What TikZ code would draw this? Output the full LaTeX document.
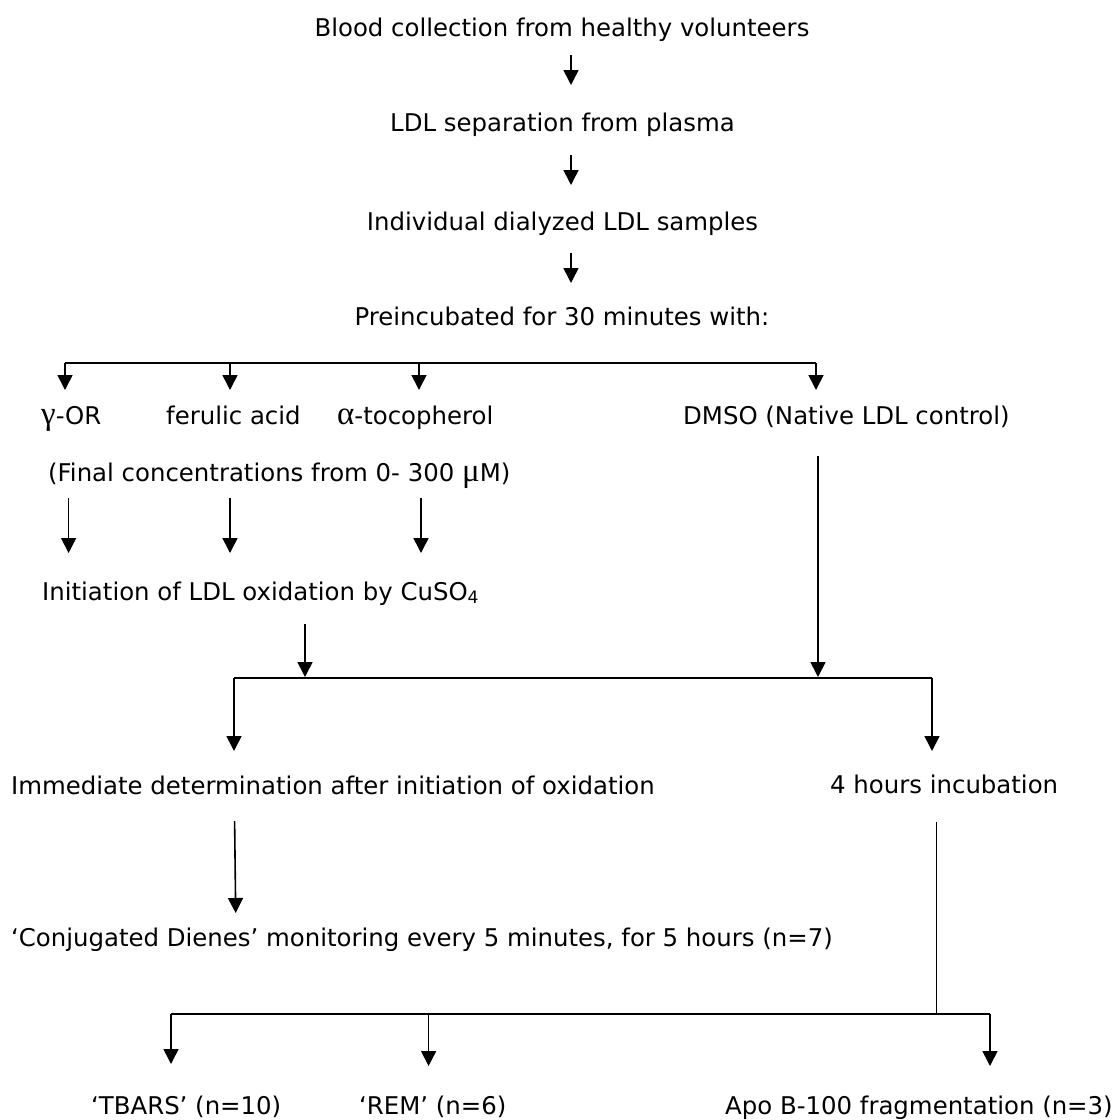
\documentclass[tikz,border=0pt]{standalone}
\usepackage{fontspec}
\setmainfont{DejaVu Sans}
\newfontfamily\grk[Scale=1.35]{Liberation Serif}
\usetikzlibrary{arrows.meta}
\begin{document}
\begin{tikzpicture}[x=1bp,y=-1bp,
  txt/.style={inner sep=0pt, font=\fontsize{24.4bp}{29bp}\selectfont},
  flow/.style={line width=1.6bp, -{Triangle[length=15bp,width=15bp]}},
  plain/.style={line width=1.6bp},
  bar/.style={line width=2bp}]
\useasboundingbox (0,0) rectangle (1119,1120);

% ---- texts ----
\node[txt,anchor=base] (blood) at (562,36.7) {Blood collection from healthy volunteers};
\node[txt,anchor=base] (sep) at (562.5,131.7) {LDL separation from plasma};
\node[txt,anchor=base] (indiv) at (562.5,230) {Individual dialyzed LDL samples};
\node[txt,anchor=base] (prein) at (562,325) {Preincubated for 30 minutes with:};

\node[txt,anchor=base west] (gor) at (41,424) {{\grk γ}-OR};
\node[txt,anchor=base west] (fer) at (166,424) {ferulic acid};
\node[txt,anchor=base west] (toc) at (337,424) {{\grk α}-tocopherol};
\node[txt,anchor=base west] (dmso) at (683,424) {DMSO (Native LDL control)};
\node[txt,anchor=base west] (final) at (48,481.7) {(Final concentrations from 0- 300 {\grk μ}M)};

\node[txt,anchor=base west] (init) at (42,600) {Initiation of LDL oxidation by CuSO\textsubscript{4}};
\node[txt,anchor=base west] (immed) at (11,794) {Immediate determination after initiation of oxidation};
\node[txt,anchor=base west] (four) at (830,793) {4 hours incubation};
\node[txt,anchor=base west] (conj) at (11,946) {‘Conjugated Dienes’ monitoring every 5 minutes, for 5 hours (n=7)};
\node[txt,anchor=base west] (tbars) at (91,1114) {‘TBARS’ (n=10)};
\node[txt,anchor=base west] (rem) at (359,1114) {‘REM’ (n=6)};
\node[txt,anchor=base west] (apo) at (725,1114) {Apo B-100 fragmentation (n=3)};

% ---- junction coordinates ----
\coordinate (a1s) at (571,55);   \coordinate (a1e) at (571,85);
\coordinate (a2s) at (571,155);  \coordinate (a2e) at (571,185);
\coordinate (a3s) at (571,253);  \coordinate (a3e) at (571,283);

\coordinate (b1L) at (65,363);   \coordinate (b1R) at (816,363);
\coordinate (b1a) at (230,363);  \coordinate (b1b) at (419,363);
\coordinate (t1) at (65,390);    \coordinate (t2) at (230,390);
\coordinate (t3) at (419,390);   \coordinate (t4) at (816,390);

\coordinate (c1s) at (68.6,498); \coordinate (c1e) at (68.6,553);
\coordinate (c2s) at (230,498);  \coordinate (c2e) at (230,553);
\coordinate (c3s) at (421,498);  \coordinate (c3e) at (421,553);

\coordinate (d1s) at (305,624);  \coordinate (d1e) at (305,677);
\coordinate (d2s) at (818,456);  \coordinate (d2e) at (818,677);
\coordinate (b2L) at (234,678);  \coordinate (b2R) at (932,678);
\coordinate (e1) at (234,751);   \coordinate (e2) at (932,751);

\coordinate (f1s) at (234.6,821); \coordinate (f1e) at (235.7,913);
\coordinate (g1s) at (936.5,822); \coordinate (g1e) at (936.5,1013.6);

\coordinate (b3L) at (171,1013.6); \coordinate (b3R) at (990,1013.6);
\coordinate (b3m) at (428.6,1013.6);
\coordinate (h1) at (171,1064);  \coordinate (h2) at (428.6,1066);
\coordinate (h3) at (990,1066);

% ---- connectors ----
\draw[flow] (a1s) -- (a1e);
\draw[flow] (a2s) -- (a2e);
\draw[flow] (a3s) -- (a3e);

\draw[bar] (b1L) -- (b1R);
\draw[flow] (b1L) -- (t1);
\draw[flow] (b1a) -- (t2);
\draw[flow] (b1b) -- (t3);
\draw[flow] (b1R) -- (t4);

\draw[flow] (c1s) -- (c1e);
\draw[flow] (c2s) -- (c2e);
\draw[flow] (c3s) -- (c3e);

\draw[flow] (d1s) -- (d1e);
\draw[flow] (d2s) -- (d2e);
\draw[bar] (b2L) -- (b2R);
\draw[flow] (b2L) -- (e1);
\draw[flow] (b2R) -- (e2);

\draw[flow] (f1s) -- (f1e);
\draw[plain] (g1s) -- (g1e);

\draw[bar] (b3L) -- (b3R);
\draw[flow] (b3L) -- (h1);
\draw[flow] (b3m) -- (h2);
\draw[flow] (b3R) -- (h3);
\end{tikzpicture}
\end{document}
